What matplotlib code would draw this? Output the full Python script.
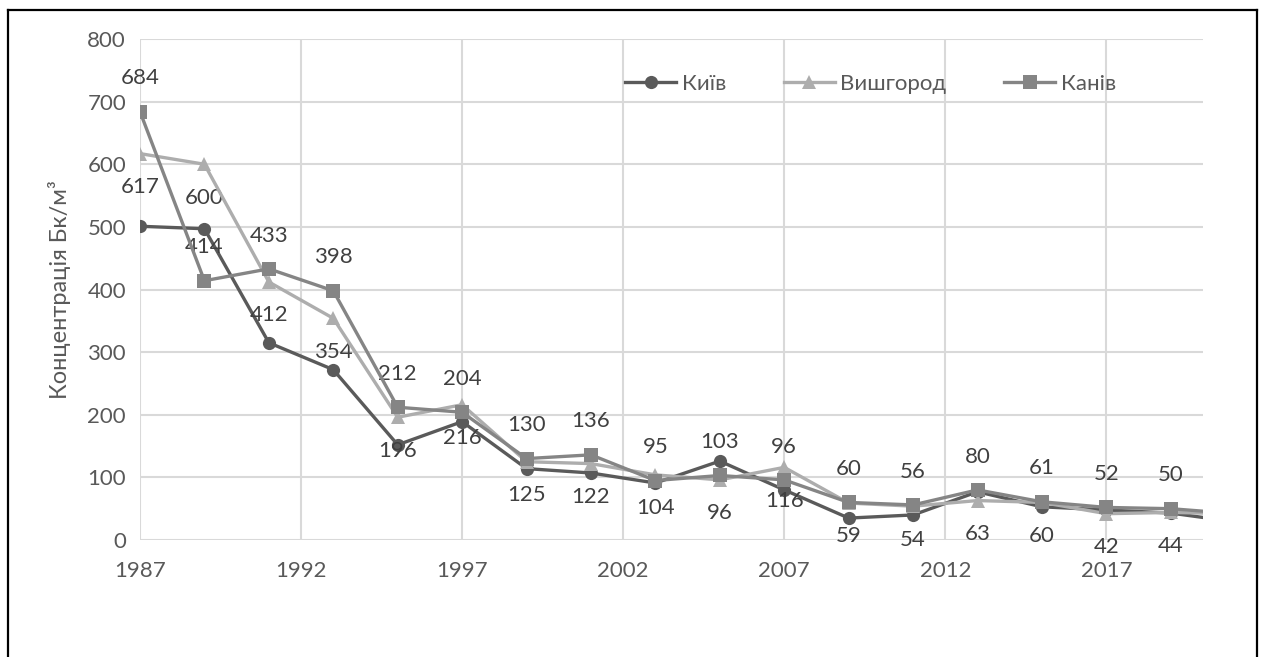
import matplotlib
matplotlib.use("Agg")
import matplotlib.pyplot as plt
from matplotlib.lines import Line2D

plt.rcParams["font.family"] = ["Lato", "Noto Sans", "DejaVu Sans"]

# ── data ──────────────────────────────────────────────────────────────────────
years = [1987, 1989, 1991, 1993, 1995, 1997, 1999, 2001, 2003,
         2005, 2007, 2009, 2011, 2013, 2015, 2017, 2019, 2021]

kyiv      = [501, 497, 315, 272, 152, 189, 114, 107, 91,
             126, 80, 35, 40, 77, 53, 48, 43, 29]
vyshhorod = [617, 600, 412, 354, 196, 216, 125, 122, 104,
             96, 116, 59, 54, 63, 60, 42, 44, 42]
kaniv     = [684, 414, 433, 398, 212, 204, 130, 136, 95,
             103, 96, 60, 56, 80, 61, 52, 50, 42]

x_ticks = [1987, 1992, 1997, 2002, 2007, 2012, 2017]
y_ticks = [0, 100, 200, 300, 400, 500, 600, 700, 800]

TEXT = "#595959"
GRID = "#d9d9d9"
FS = 16

# ── figure ────────────────────────────────────────────────────────────────────
fig = plt.figure(figsize=(12.63, 6.57), dpi=100)
fig.patch.set_facecolor("white")
ax = fig.add_axes([140 / 1263, 1 - 540 / 657, 1063 / 1263, 501 / 657])

series = [
    ("Київ",     kyiv,      "#5a5a5a", "o"),
    ("Вишгород", vyshhorod, "#adadad", "^"),
    ("Канів",    kaniv,     "#858585", "s"),
]
for i, (name, vals, col, mk) in enumerate(series):
    ax.plot(years, vals, color=col, linewidth=2.4, marker=mk,
            markersize=9.5 if mk != "^" else 10.5, markeredgewidth=0,
            label=name, zorder=3 + i, clip_on=True)

# value labels: Канів above its markers, Вишгород below
for x, v in zip(years, kaniv):
    if x <= 2020:
        ax.annotate(str(v), (x, v), xytext=(0, 24), textcoords="offset points",
                    ha="center", va="center", fontsize=FS, color="#404040")
for x, v in zip(years, vyshhorod):
    if x <= 2020:
        ax.annotate(str(v), (x, v), xytext=(0, -24), textcoords="offset points",
                    ha="center", va="center", fontsize=FS, color="#404040")

ax.set_xlim(1987, 2020)
ax.set_ylim(0, 800)
ax.set_xticks(x_ticks)
ax.set_yticks(y_ticks)
ax.grid(True, color=GRID, linewidth=1.5)
ax.set_axisbelow(True)
for sp in ax.spines.values():
    sp.set_visible(False)
ax.tick_params(length=0, labelsize=FS, labelcolor=TEXT)
ax.tick_params(axis="y", pad=10)
ax.tick_params(axis="x", pad=15)
ax.set_ylabel("Концентрація Бк/м³", fontsize=17, color=TEXT, labelpad=12)

leg = ax.legend(loc="upper right", ncol=3, frameon=False, fontsize=FS,
                bbox_to_anchor=(0.937, 0.97), handlelength=2.3,
                columnspacing=2.6, handletextpad=0.25)
for t in leg.get_texts():
    t.set_color(TEXT)

# outer chart border (bottom edge runs off the canvas)
for xs, ys in [([8, 8], [0, 647]), ([8, 1257], [647, 647]), ([1257, 1257], [647, 0])]:
    fig.add_artist(Line2D([x / 1263 for x in xs], [y / 657 for y in ys],
                          color="black", linewidth=1.6))

fig.savefig("out.png", dpi=100)
